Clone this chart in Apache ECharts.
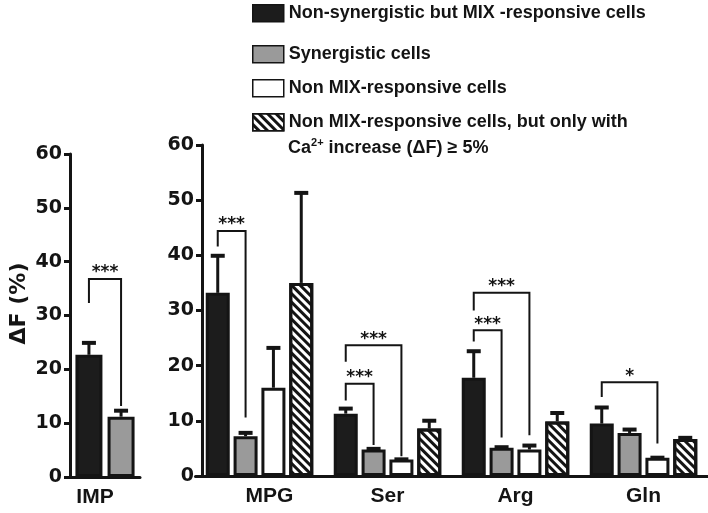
<!DOCTYPE html>
<html>
<head>
<meta charset="utf-8">
<script src="https://cdn.jsdelivr.net/npm/echarts@6/dist/echarts.min.js"></script>
<style>
html,body{margin:0;padding:0;background:#fff;}
#chart{width:708px;height:513px;}
</style>
</head>
<body>
<div id="chart"></div>
<script>
// ---------------- data ----------------
const leftCategories = ['IMP'];
const rightCategories = ['MPG', 'Ser', 'Arg', 'Gln'];
const seriesNames = [
  'Non-synergistic but MIX -responsive cells',
  'Synergistic cells',
  'Non MIX-responsive cells',
  'Non MIX-responsive cells, but only with Ca2+ increase (ΔF) ≥ 5%'
];
const legendLine4 = 'Non MIX-responsive cells, but only with';
const legendLine5 = 'Ca{sup|2+} increase (ΔF) ≥ 5%';

// IMP panel (mean, SEM)
const impNonSyn = [22.7];
const impNonSynErr = [2.4];
const impSyn = [11.2];
const impSynErr = [1.3];

// amino-acid panel (mean, SEM)
const nonSyn = [33.2, 11.3, 17.8, 9.5];
const nonSynErr = [6.9, 1.1, 5.0, 3.1];
const syn = [7.2, 4.8, 5.1, 7.8];
const synErr = [0.8, 0.3, 0.3, 0.8];
const nonMix = [16.0, 3.0, 4.8, 3.3];
const nonMixErr = [7.4, 0.2, 0.9, 0.2];
const nonMix5 = [35.0, 8.6, 9.9, 6.7];
const nonMix5Err = [16.5, 1.6, 1.7, 0.4];

const yTicks = [0, 10, 20, 30, 40, 50, 60];

// significance brackets: [category, fromBar, toBar, top, leftEnd, rightEnd]
const impBrackets = [[0, 0, 1, 36.8, 32.3, 13.2]];
const impBracketLabels = ['***'];
const rightBrackets = [
  [0, 0, 1, 44.4, 41.6, 10.6],
  [1, 0, 1, 16.7, 13.7, 5.6],
  [1, 0, 2, 23.7, 20.7, 3.6],
  [2, 0, 1, 26.4, 24.4, 7.0],
  [2, 0, 2, 33.2, 30.0, 7.4],
  [3, 0, 2, 17.0, 14.3, 5.9]
];
const rightBracketLabels = ['***', '***', '***', '***', '***', '*'];

// ---------------- styling ----------------
const INK = '#141414';
const BW_L = 27, GAP_L = 0.19;
const BW_R = 24, GAP_R = 0.16;

function barOffset(k, n, w, gap) {
  const g = w * gap;
  const total = n * w + (n - 1) * g;
  return -total / 2 + k * (w + g) + w / 2;
}

const styles = [
  { color: '#1c1c1c', borderColor: INK, borderWidth: 3 },
  { color: '#9a9a9a', borderColor: INK, borderWidth: 3 },
  { color: '#ffffff', borderColor: INK, borderWidth: 3 },
  { color: '#ffffff', borderColor: INK, borderWidth: 3,
    decal: { symbol: 'rect', symbolSize: 1, dashArrayX: [1, 0], dashArrayY: [2.6, 2.6], rotation: Math.PI / 4, color: INK } }
];

function errSeries(name, xAxisIndex, yAxisIndex, rows, n, w, gap) {
  return {
    type: 'custom', name: name, xAxisIndex, yAxisIndex, z: 5, silent: true,
    data: rows,
    renderItem: function (params, api) {
      const cat = api.value(0), k = api.value(1), m = api.value(2), e = api.value(3);
      const base = api.coord([cat, m]);
      const top = api.coord([cat, m + e]);
      const x = base[0] + barOffset(k, n, w, gap);
      const sty = { stroke: INK, lineWidth: 3, fill: null };
      return { type: 'group', children: [
        { type: 'line', shape: { x1: x, y1: base[1], x2: x, y2: top[1] }, style: sty },
        { type: 'line', shape: { x1: x - 7, y1: top[1] + 1, x2: x + 7, y2: top[1] + 1 }, style: { stroke: INK, lineWidth: 4 } }
      ]};
    }
  };
}

function bracketSeries(xAxisIndex, yAxisIndex, rows, labels, n, w, gap) {
  return {
    type: 'custom', xAxisIndex, yAxisIndex, z: 6, silent: true,
    data: rows,
    renderItem: function (params, api) {
      const cat = api.value(0), a = api.value(1), b = api.value(2);
      const t = api.value(3), le = api.value(4), re = api.value(5);
      const c = api.coord([cat, t]);
      const xa = c[0] + barOffset(a, n, w, gap);
      const xb = c[0] + barOffset(b, n, w, gap);
      const yl = api.coord([cat, le])[1];
      const yr = api.coord([cat, re])[1];
      return { type: 'group', children: [
        { type: 'polyline', shape: { points: [[xa, yl], [xa, c[1]], [xb, c[1]], [xb, yr]] },
          style: { stroke: INK, lineWidth: 2, fill: null } },
        { type: 'text', style: { text: labels[params.dataIndex], x: (xa + xb) / 2, y: c[1] - 6,
          align: 'center', verticalAlign: 'middle', fill: INK,
          font: 'bold 17px "DejaVu Sans"' } }
      ]};
    }
  };
}

const tickFont = { fontFamily: 'DejaVu Sans', fontWeight: 'bold', fontSize: 19, color: INK };
const catFont = { fontFamily: 'Liberation Sans', fontWeight: 'bold', fontSize: 21, color: INK };

function yAxisCfg(gridIndex, extra) {
  return Object.assign({
    type: 'value', gridIndex, min: yTicks[0], max: yTicks[yTicks.length - 1], interval: yTicks[1] - yTicks[0],
    axisLine: { show: true, lineStyle: { color: INK, width: 3 } },
    axisTick: { show: true, length: 6, lineStyle: { color: INK, width: 3 } },
    axisLabel: Object.assign({ margin: 8 }, tickFont),
    splitLine: { show: false }
  }, extra);
}

function xAxisCfg(gridIndex, cats, rich) {
  return {
    type: 'category', gridIndex, data: cats,
    axisLine: { show: true, lineStyle: { color: INK, width: 3 } },
    axisTick: { show: false },
    axisLabel: Object.assign({ margin: 10, interval: 0,
      formatter: function (v) { return rich[v] ? '{' + rich[v] + '|' + v + '}' : v; },
      rich: {
        shiftL: Object.assign({ padding: [0, 20, 0, 0] }, catFont),
        shiftR: Object.assign({ padding: [0, 0, 0, 20] }, catFont)
      } }, catFont)
  };
}

const legendText = { fontFamily: 'Liberation Sans', fontWeight: 'bold', fontSize: 18, color: INK, lineHeight: 18 };
function legendCfg(name, top, fmt) {
  return {
    data: [name], left: 252, top: top, padding: 0, itemWidth: 31, itemHeight: 17,
    selectedMode: false, icon: 'rect',
    itemStyle: { borderWidth: 1.5, borderColor: INK },
    textStyle: legendText,
    formatter: fmt || null
  };
}

const option = {
  backgroundColor: '#fff',
  animation: false,
  grid: [
    { left: 70, top: 154, width: 70, height: 323 },
    { left: 195.5, top: 145, width: 512, height: 331 }
  ],
  xAxis: [
    xAxisCfg(0, leftCategories, { IMP: 'shiftL' }),
    xAxisCfg(1, rightCategories, { MPG: 'shiftR' })
  ],
  yAxis: [
    yAxisCfg(0, { name: 'ΔF (%)', nameLocation: 'middle', nameRotate: 90, nameGap: 40,
      nameTextStyle: { fontFamily: 'DejaVu Sans', fontWeight: 'bold', fontSize: 22, color: INK, padding: [0, 0, 0, 24] } }),
    yAxisCfg(1, { offset: -6.5 })
  ],
  legend: [
    legendCfg(seriesNames[0], 4),
    legendCfg(seriesNames[1], 45),
    legendCfg(seriesNames[2], 79),
    legendCfg(seriesNames[3], 113, function () { return legendLine4; })
  ],
  title: {
    text: legendLine5, left: 288, top: 137, padding: 0,
    textStyle: Object.assign({}, legendText, { lineHeight: 22,
      rich: {
        sup: { fontFamily: 'Liberation Sans', fontWeight: 'bold', fontSize: 11, color: INK, lineHeight: 12, verticalAlign: 'top' }
      } })
  },
  series: [
    { type: 'bar', name: seriesNames[0], xAxisIndex: 0, yAxisIndex: 0, data: impNonSyn, barWidth: BW_L, barGap: (GAP_L * 100) + '%', itemStyle: styles[0] },
    { type: 'bar', name: seriesNames[1], xAxisIndex: 0, yAxisIndex: 0, data: impSyn, barWidth: BW_L, barGap: (GAP_L * 100) + '%', itemStyle: styles[1] },
    { type: 'bar', name: seriesNames[0], xAxisIndex: 1, yAxisIndex: 1, data: nonSyn, barWidth: BW_R, barGap: (GAP_R * 100) + '%', itemStyle: styles[0] },
    { type: 'bar', name: seriesNames[1], xAxisIndex: 1, yAxisIndex: 1, data: syn, barWidth: BW_R, barGap: (GAP_R * 100) + '%', itemStyle: styles[1] },
    { type: 'bar', name: seriesNames[2], xAxisIndex: 1, yAxisIndex: 1, data: nonMix, barWidth: BW_R, barGap: (GAP_R * 100) + '%', itemStyle: styles[2] },
    { type: 'bar', name: seriesNames[3], xAxisIndex: 1, yAxisIndex: 1, data: nonMix5, barWidth: BW_R, barGap: (GAP_R * 100) + '%', itemStyle: styles[3] },
    errSeries('errL', 0, 0, [
      [0, 0, impNonSyn[0], impNonSynErr[0]],
      [0, 1, impSyn[0], impSynErr[0]]
    ], 2, BW_L, GAP_L),
    errSeries('errR', 1, 1, (function () {
      const rows = [];
      const groups = [[nonSyn, nonSynErr], [syn, synErr], [nonMix, nonMixErr], [nonMix5, nonMix5Err]];
      rightCategories.forEach(function (c, i) {
        groups.forEach(function (g, k) { rows.push([i, k, g[0][i], g[1][i]]); });
      });
      return rows;
    })(), 4, BW_R, GAP_R),
    bracketSeries(0, 0, impBrackets, impBracketLabels, 2, BW_L, GAP_L),
    bracketSeries(1, 1, rightBrackets, rightBracketLabels, 4, BW_R, GAP_R)
  ]
};

const chart = echarts.init(document.getElementById('chart'), null, { renderer: 'canvas' });
chart.setOption(option);
</script>
</body>
</html>
